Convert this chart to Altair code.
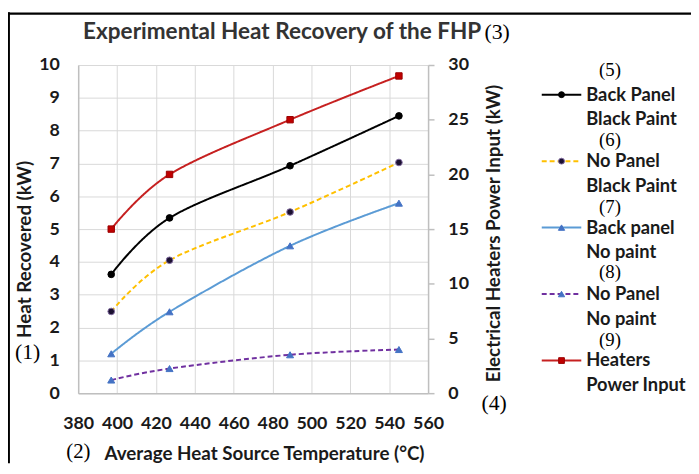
import altair as alt
import pandas as pd

# ---------------- data ----------------
temps = [397, 427, 489, 545]
back_panel_black_paint = [3.62, 5.34, 6.93, 8.45]
no_panel_black_paint = [2.49, 4.05, 5.52, 7.03]
back_panel_no_paint = [1.20, 2.48, 4.49, 5.79]
no_panel_no_paint = [0.40, 0.75, 1.17, 1.33]
heaters_power_input = [15, 20, 25, 29]

x_ticks = list(range(380, 561, 20))
left_ticks = list(range(0, 11))
right_ticks = list(range(0, 31, 5))

legend_line1 = ["Back Panel", "No Panel", "Back panel", "No Panel", "Heaters"]
legend_line2 = ["Black Paint", "Black Paint", "No paint", "No paint", "Power Input"]
legend_tags = ["(5)", "(6)", "(7)", "(8)", "(9)"]

title_text = "Experimental Heat Recovery of the FHP"
x_title = "Average Heat Source Temperature (°C)"
left_title = "Heat Recovered (kW)"
right_title = "Electrical Heaters Power Input (kW)"

# ---------------- styles ----------------
FONT = "Lato"
SERIF = "Liberation Serif"
GRID = "#d9d9d9"
DOMAIN = "#bfbfbf"
TXT = "#1a1a1a"
LBL = 18
TTL = 19

styles = [
    dict(line="#000000", dash=[1, 0], shape="circle", fill="#000000", stroke="#000000", size=45),
    dict(line="#FFC000", dash=[5, 3], shape="circle", fill="#1b1030", stroke="#7f6a9f", size=45),
    dict(line="#5B9BD5", dash=[1, 0], shape="triangle-up", fill="#4472C4", stroke="#4472C4", size=50),
    dict(line="#7030A0", dash=[5, 3], shape="triangle-up", fill="#4472C4", stroke="#4472C4", size=50),
    dict(line="#C62020", dash=[1, 0], shape="square", fill="#C00000", stroke="#9a0000", size=42),
]

W, H = 354, 332
PAD_L, PAD_T = 71, 55
CANVAS_W, CANVAS_H = 691, 458

xscale = alt.Scale(domain=[380, 560], nice=False, zero=False)
xaxis = alt.Axis(values=x_ticks, grid=True, gridColor=GRID, domainColor=DOMAIN, domainWidth=1.5,
                 ticks=False, labelFont=FONT, labelFontWeight="bold", labelFontSize=LBL,
                 labelColor=TXT, labelPadding=31, labelFlush=False, labelBaseline="middle",
                 title=x_title, titleFont=FONT, titleFontWeight="bold", titleFontSize=TTL,
                 titleColor=TXT, titleX=188, titleY=61, titleBaseline="middle", titleAlign="center")
lscale = alt.Scale(domain=[0, 10], nice=False)
laxis = alt.Axis(values=left_ticks, grid=True, gridColor=GRID, domainColor=DOMAIN, domainWidth=1.5,
                 ticks=False, labelFont=FONT, labelFontWeight="bold", labelFontSize=LBL,
                 labelColor=TXT, labelPadding=19, labelFlush=False,
                 title=left_title, titleFont=FONT, titleFontWeight="bold", titleFontSize=TTL,
                 titleColor=TXT, titleX=-54, titleY=186, titleAngle=270,
                 titleBaseline="middle", titleAlign="center")
rscale = alt.Scale(domain=[0, 30], nice=False)
raxis = alt.Axis(values=right_ticks, orient="right", grid=False, domainColor=DOMAIN, domainWidth=1.5,
                 ticks=True, tickSize=6, tickColor=DOMAIN, tickWidth=1.5,
                 labelFont=FONT, labelFontWeight="bold", labelFontSize=LBL,
                 labelColor=TXT, labelPadding=14, labelFlush=False,
                 title=right_title, titleFont=FONT, titleFontWeight="bold", titleFontSize=TTL,
                 titleColor=TXT, titleX=66, titleY=170, titleAngle=270,
                 titleBaseline="middle", titleAlign="center")


def series(values, st, yscale, yaxis):
    df = pd.DataFrame({"temp": temps, "value": values})
    base = alt.Chart(df).encode(
        x=alt.X("temp:Q", scale=xscale, axis=xaxis),
        y=alt.Y("value:Q", scale=yscale, axis=yaxis),
    )
    line = base.mark_line(color=st["line"], strokeWidth=2, strokeDash=st["dash"], interpolate="cardinal")
    pts = base.mark_point(shape=st["shape"], filled=True, fill=st["fill"], stroke=st["stroke"],
                          strokeWidth=1, size=st["size"], opacity=1)
    return [line, pts]


left_layers = []
for vals, st in zip([back_panel_black_paint, no_panel_black_paint, back_panel_no_paint, no_panel_no_paint], styles[:4]):
    left_layers += series(vals, st, lscale, laxis)
right_layers = series(heaters_power_input, styles[4], rscale, raxis)

left = alt.layer(*left_layers)
right = alt.layer(*right_layers)

dummy = pd.DataFrame({"a": [0]})


def text(t, x, y, font=FONT, size=TTL, weight="bold", align="left", color=TXT):
    return alt.Chart(dummy).mark_text(text=t, font=font, fontSize=size, fontWeight=weight,
                                      align=align, baseline="middle", color=color).encode(
        x=alt.value(x), y=alt.value(y))


deco = []
# title
deco.append(text(title_text, 5, -33, size=22.8, color="#333333"))
# annotations
deco.append(text("(3)", 411, -33, font=SERIF, size=22, weight="normal", color="#000000"))
deco.append(text("(1)", -64, 290, font=SERIF, size=22, weight="normal", color="#000000"))
deco.append(text("(2)", -12, 392, font=SERIF, size=21, weight="normal", color="#000000"))
deco.append(text("(4)", 408, 342, font=SERIF, size=22, weight="normal", color="#000000"))

# legend
entry_y = [30 + i * 67.25 for i in range(5)]
tag_y = [5, 76, 144, 209, 278]
for i, st in enumerate(styles):
    yy = entry_y[i]
    deco.append(alt.Chart(dummy).mark_rule(color=st["line"], strokeWidth=2, strokeDash=st["dash"]).encode(
        x=alt.value(469), x2=alt.value(509), y=alt.value(yy)))
    deco.append(alt.Chart(dummy).mark_point(shape=st["shape"], filled=True, fill=st["fill"], stroke=st["stroke"],
                                            strokeWidth=1, size=st["size"] * 0.8, opacity=1).encode(
        x=alt.value(489), y=alt.value(yy)))
    deco.append(text(legend_line1[i], 514, yy, size=18.5))
    deco.append(text(legend_line2[i], 514, yy + 25, size=18.5))
    deco.append(text(legend_tags[i], 538, tag_y[i], font=SERIF, size=19, weight="normal",
                     align="center", color="#000000"))

# frame
deco.append(alt.Chart(dummy).mark_rule(color="#000000", strokeWidth=2.5).encode(
    x=alt.value(-70.3), y=alt.value(-53.5), y2=alt.value(403)))
deco.append(alt.Chart(dummy).mark_rule(color="#000000", strokeWidth=2.5).encode(
    x=alt.value(-71.5), x2=alt.value(620), y=alt.value(-52)))

chart = alt.layer(left, right, *deco).resolve_scale(y="independent").properties(
    width=W, height=H,
    autosize=alt.AutoSizeParams(type="none"),
    padding={"left": PAD_L, "top": PAD_T, "right": CANVAS_W - PAD_L - W, "bottom": CANVAS_H - PAD_T - H},
    background="white",
).configure_view(stroke=None)

chart.save("out.html", embed_options={"renderer": "svg", "actions": False})
